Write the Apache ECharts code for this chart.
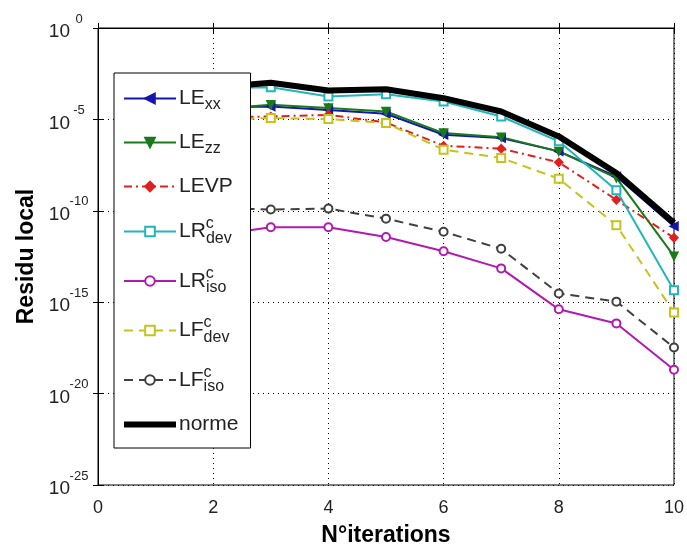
<!DOCTYPE html>
<html><head><meta charset="utf-8">
<script src="https://cdn.jsdelivr.net/npm/echarts@6/dist/echarts.min.js"></script>
<style>html,body{margin:0;padding:0;background:#fff}#c{width:687px;height:552px}</style>
</head><body><div id="c"></div>
<script>
// iterations
var iterations = [1, 2, 3, 4, 5, 6, 7, 8, 9, 10];
// series values as log10 exponents
var LExxLog  = [-4.2, -4.35, -4.29, -4.48, -4.69, -5.84, -6.02, -6.75, -8.12, -10.85];
var LEzzLog  = [-4.3, -4.45, -4.2, -4.38, -4.57, -5.75, -5.97, -6.75, -8.2, -12.48];
var LEVPLog  = [-4.8, -4.9, -4.84, -4.75, -5.17, -6.44, -6.6, -7.35, -9.4, -11.48];
var LRdevLog = [-3.2, -3.3, -3.24, -3.75, -3.62, -4.02, -4.84, -6.2, -8.88, -14.34];
var LRisoLog = [-11.6, -11.35, -10.9, -10.9, -11.43, -12.21, -13.15, -15.39, -16.16, -18.7];
var LFdevLog = [-4.9, -5.0, -4.93, -4.98, -5.2, -6.66, -7.11, -8.24, -10.79, -15.57];
var LFisoLog = [-9.8, -9.85, -9.93, -9.88, -10.43, -11.15, -12.08, -14.52, -14.97, -17.48];
var normeLog = [-3.2, -3.25, -3.0, -3.42, -3.35, -3.84, -4.57, -5.93, -7.93, -10.66];
var xTicks = [0, 2, 4, 6, 8, 10];
var yTickExponents = [0, -5, -10, -15, -20, -25];

function pts(logs){ return iterations.map(function(x,i){ return [x, logs[i]]; }); }

var FONT = 'Liberation Sans, Arial, sans-serif';
var legendRich = {
  m: {fontSize: 21, fontFamily: FONT, color: '#222', lineHeight: 30},
  sub: {fontSize: 16, fontFamily: FONT, color: '#222', padding: [13, 0, 0, 0]},
  sup: {fontSize: 16, fontFamily: FONT, color: '#222', padding: [0, 0, 15, 0], width: 0.1},
  subc: {fontSize: 16, fontFamily: FONT, color: '#222', padding: [14, 0, 0, 0]}
};
var legendLabels = {
  'LExx': '{m|LE}{sub|xx}',
  'LEzz': '{m|LE}{sub|zz}',
  'LEVP': '{m|LEVP}',
  'LRdev': '{m|LR}{sup|c}{subc|dev}',
  'LRiso': '{m|LR}{sup|c}{subc|iso}',
  'LFdev': '{m|LF}{sup|c}{subc|dev}',
  'LFiso': '{m|LF}{sup|c}{subc|iso}',
  'norme': '{m|norme}'
};

function line(name, logs, color, type, symbol, rot, width, size){
  return {
    name: name, type: 'line', data: pts(logs),
    symbol: symbol, symbolSize: size || 8, symbolRotate: rot || 0,
    lineStyle: {color: color, width: width || 2, type: type},
    itemStyle: {color: color, borderColor: color, borderWidth: 1.5},
    z: 2
  };
}

var series = [
  line('LExx', LExxLog, '#1515b0', 'solid', 'triangle', 90),
  line('LEzz', LEzzLog, '#1a7a1a', 'solid', 'triangle', 180),
  line('LEVP', LEVPLog, '#e02020', [8, 4, 2, 4], 'diamond', 0),
  line('LRdev', LRdevLog, '#22b5bb', 'solid', 'emptyRect', 0),
  line('LRiso', LRisoLog, '#b01ab0', 'solid', 'emptyCircle', 0),
  line('LFdev', LFdevLog, '#c4c41c', [9, 6], 'emptyRect', 0),
  line('LFiso', LFisoLog, '#404040', [9, 6], 'emptyCircle', 0),
  {name: 'norme', type: 'line', data: pts(normeLog), symbol: 'none',
   lineStyle: {color: '#000', width: 6}, itemStyle: {color: '#000'}, z: 3}
];

var gridLine = {show: true, lineStyle: {color: '#000', type: [1, 4], width: 1}};
var tick = {show: true, inside: true, length: 5, lineStyle: {color: '#000'}};

var legendData = series.map(function(s){
  if (s.name === 'norme') return {name: 'norme', icon: 'path://M0,0L52,0L52,6L0,6Z', itemStyle: {color: '#000'}};
  return {name: s.name};
});

var option = {
  animation: false,
  backgroundColor: '#fff',
  grid: {left: 98, right: 10, top: 28, bottom: 66, show: true, borderColor: '#000', borderWidth: 1},
  legend: {
    orient: 'vertical', left: 114, top: 73,
    backgroundColor: '#fff', borderColor: '#000', borderWidth: 1,
    padding: [15, 12, 13, 9], itemGap: 19, itemWidth: 52, itemHeight: 12,
    data: legendData,
    formatter: function(n){ return legendLabels[n]; },
    textStyle: {rich: legendRich, padding: [0, 0, 0, -2]}
  },
  xAxis: [
    {type: 'value', min: 0, max: 10, interval: 2, position: 'bottom',
     name: 'N°iterations', nameLocation: 'middle', nameGap: 39,
     nameTextStyle: {fontSize: 23, fontWeight: 'bold', fontFamily: FONT, color: '#000'},
     axisLine: {lineStyle: {color: '#000'}}, axisTick: tick,
     axisLabel: {fontSize: 18, fontFamily: FONT, color: '#222', margin: 14},
     splitLine: gridLine},
    {type: 'value', min: 0, max: 10, interval: 2, position: 'top',
     axisLine: {lineStyle: {color: '#000'}}, axisTick: tick,
     axisLabel: {show: false}, splitLine: {show: false}}
  ],
  yAxis: [
    {type: 'value', min: -25, max: 0, interval: 5, position: 'left',
     name: 'Residu local', nameLocation: 'middle', nameGap: 54, nameRotate: 90,
     nameTextStyle: {fontSize: 23, fontWeight: 'bold', fontFamily: FONT, color: '#000'},
     axisLine: {show: true, lineStyle: {color: '#000'}}, axisTick: tick,
     axisLabel: {margin: 10, formatter: function(v){
        return '{b|10}{e|' + v + '}'; },
       rich: {b: {fontSize: 19, fontFamily: FONT, color: '#222', padding: [8, 0, 0, 0]},
              e: {fontSize: 13, fontFamily: FONT, color: '#222', width: 18, align: 'left', padding: [0, 0, 18, 0]}}},
     splitLine: gridLine},
    {type: 'value', min: -25, max: 0, interval: 5, position: 'right',
     axisLine: {show: true, lineStyle: {color: '#000'}}, axisTick: tick,
     axisLabel: {show: false}, splitLine: {show: false}}
  ],
  series: series
};
var chart = echarts.init(document.getElementById('c'), null, {renderer: 'canvas'});
chart.setOption(option);
</script></body></html>
